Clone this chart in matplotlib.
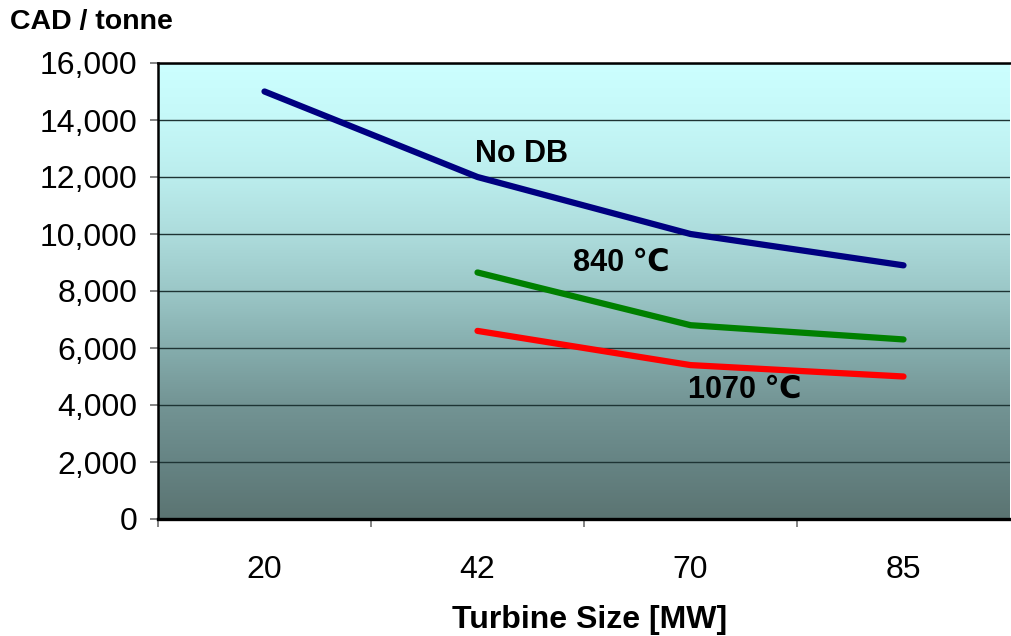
import numpy as np
import matplotlib
matplotlib.use("Agg")
import matplotlib.pyplot as plt
from matplotlib.colors import LinearSegmentedColormap

plt.rcParams["font.family"] = ["Liberation Sans", "DejaVu Sans"]

# turbine size categories and cost per tonne for each double-burner case
sizes = ["20", "42", "70", "85"]
no_db = [15000, 12000, 10000, 8900]
db_840 = [None, 8650, 6800, 6300]
db_1070 = [None, 6600, 5400, 5000]

series = [
    ("No DB", no_db, "#000080"),
    ("840 \u2103", db_840, "#008000"),
    ("1070 \u2103", db_1070, "#ff0000"),
]
# where each series label sits (category index, value)
label_pos = {
    "No DB": (0.99, 12800),
    "840 \u2103": (1.45, 9000),
    "1070 \u2103": (1.99, 4550),
}

fig = plt.figure(figsize=(10.12, 6.36), dpi=100)
ax = fig.add_axes([158 / 1012, 117 / 636, 852 / 1012, 456 / 636])

# vertical gradient fill behind the data, pale cyan at the top
grad = LinearSegmentedColormap.from_list("bg", [
    (0.0, "#5b7472"), (0.125, "#668484"), (0.25, "#739494"),
    (0.375, "#85adad"), (0.5, "#9bc7c7"), (0.625, "#addcdc"),
    (0.75, "#bbeded"), (0.875, "#c5f8f8"), (1.0, "#ccffff")])
ax.imshow(np.linspace(0, 1, 256).reshape(-1, 1), cmap=grad, aspect="auto",
          extent=[0, 1, 0, 1], transform=ax.transAxes, origin="lower", zorder=0)

x = np.arange(len(sizes))
for name, vals, color in series:
    pts = [(i, v) for i, v in zip(x, vals) if v is not None]
    xs, ys = zip(*pts)
    ax.plot(xs, ys, color=color, lw=4.5, solid_capstyle="round",
            solid_joinstyle="round", zorder=3)
    lx, ly = label_pos[name]
    ax.text(lx, ly, name, fontsize=22, fontweight="bold", ha="left",
            va="center", zorder=4)

ax.set_xlim(-0.5, 3.5)
ax.set_ylim(0, 16000)

ax.set_yticks(np.arange(0, 16001, 2000))
ax.set_yticklabels([f"{v:,}" for v in range(0, 16001, 2000)], fontsize=23)
ax.yaxis.grid(True, color="#1e3434", lw=1.0)
ax.set_axisbelow(False)
for gl in ax.get_ygridlines():
    gl.set_zorder(1)
ax.tick_params(axis="y", direction="out", length=6, width=1.2,
               color="#707070", pad=9)

# category boundaries get the tick marks, labels sit between them
ax.set_xticks([-0.5, 0.5, 1.5, 2.5])
ax.set_xticklabels([])
ax.set_xticks(x, minor=True)
ax.set_xticklabels(sizes, minor=True, fontsize=23)
ax.tick_params(axis="x", which="major", direction="out", length=6,
               width=1.2, color="#707070")
ax.tick_params(axis="x", which="minor", length=0, pad=26)

for side in ["left", "top"]:
    ax.spines[side].set_linewidth(1.8)
ax.spines["bottom"].set_linewidth(2.4)
ax.spines["right"].set_visible(False)
for s in ax.spines.values():
    s.set_zorder(5)

fig.text(10 / 1012, 1 - 22 / 636, "CAD / tonne", fontsize=20.5,
         fontweight="bold", ha="left", va="center")
fig.text(590 / 1012, 1 - 620 / 636, "Turbine Size [MW]", fontsize=23,
         fontweight="bold", ha="center", va="center")

fig.savefig("out.png", dpi=100)
